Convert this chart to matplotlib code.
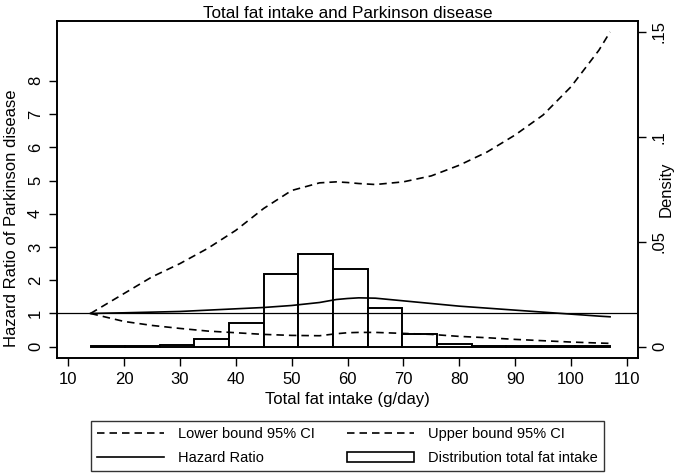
import numpy as np
import matplotlib
matplotlib.use('Agg')
import matplotlib.pyplot as plt
from matplotlib.patches import Patch
from matplotlib.lines import Line2D

plt.rcParams['font.family'] = ['Liberation Sans', 'DejaVu Sans']

# fat intake grid (g/day) and fitted curves
fat = [14, 20, 25, 30, 35, 40, 45, 50, 55, 58, 60, 62, 65, 70, 75, 80, 85, 90, 95, 100, 105, 107]
hr = [1.0, 1.02, 1.04, 1.06, 1.10, 1.14, 1.18, 1.24, 1.33, 1.42, 1.45, 1.47, 1.46, 1.38, 1.30, 1.22, 1.16, 1.10, 1.04, 0.98, 0.92, 0.90]
lower = [1.0, 0.76, 0.64, 0.55, 0.47, 0.42, 0.37, 0.34, 0.33, 0.39, 0.42, 0.43, 0.43, 0.40, 0.37, 0.31, 0.27, 0.22, 0.18, 0.14, 0.11, 0.10]
upper = [1.0, 1.6, 2.1, 2.5, 2.96, 3.5, 4.16, 4.7, 4.93, 4.96, 4.94, 4.91, 4.88, 4.96, 5.14, 5.46, 5.86, 6.37, 6.97, 7.82, 8.92, 9.47]

# histogram of total fat intake (density)
bin_start = 14.0
bin_width = 6.2
density = [0.0002, 0.0002, 0.0008, 0.0035, 0.0114, 0.0348, 0.0443, 0.0369, 0.0184, 0.006, 0.0011, 0.0003, 0.0002, 0.0002, 0.0002]

x_ticks = [10, 20, 30, 40, 50, 60, 70, 80, 90, 100, 110]
hr_ticks = [0, 1, 2, 3, 4, 5, 6, 7, 8]
dens_ticks = [0, 0.05, 0.1, 0.15]
dens_labels = ['0', '.05', '.1', '.15']

fig = plt.figure(figsize=(6.85, 4.73), dpi=100)
ax = fig.add_axes([57/685, 1 - 358/473, (638-57)/685, (358-21)/473])
ax2 = ax.twinx()
ax.set_zorder(ax2.get_zorder() + 1)
ax.patch.set_visible(False)

edges = [bin_start + i * bin_width for i in range(len(density))]
ax2.bar(edges, density, width=bin_width, align='edge', color='white',
        edgecolor='black', linewidth=1.4)

dash = (0, (4.5, 3))
ax.plot(fat, upper, color='black', lw=1.2, linestyle=dash)
ax.plot(fat, lower, color='black', lw=1.2, linestyle=dash)
ax.plot(fat, hr, color='black', lw=1.2)
ax.axhline(1, color='black', lw=0.9)

ylo, yhi = -0.34, 9.8
scale = 0.15 / 9.47
ax.set_ylim(ylo, yhi)
ax2.set_ylim(ylo * scale, yhi * scale)
ax.set_xlim(8, 112)

ax.set_xticks(x_ticks)
ax.set_yticks(hr_ticks)
ax.set_yticklabels([str(t) for t in hr_ticks], rotation=90, va='center')
ax2.set_yticks(dens_ticks)
ax2.set_yticklabels(dens_labels, rotation=90, va='center')

for a in (ax, ax2):
    a.tick_params(direction='out', length=6, width=1, labelsize=12, pad=4)
    for s in a.spines.values():
        s.set_linewidth(1.2)

ax.set_xlabel('Total fat intake (g/day)', fontsize=12, labelpad=4)
ax.set_ylabel('Hazard Ratio of Parkinson disease', fontsize=12)
ax.yaxis.set_label_coords(-0.0654, 0.415)
ax2.set_ylabel('Density', fontsize=12)
ax2.yaxis.set_label_coords(1.036, 0.5)
ax.set_title('Total fat intake and Parkinson disease', fontsize=12.3, pad=2)

handles = [
    Line2D([], [], color='black', lw=1.2, linestyle=dash),
    Line2D([], [], color='black', lw=1.2),
    Line2D([], [], color='black', lw=1.2, linestyle=dash),
    Patch(facecolor='white', edgecolor='black', linewidth=1.2),
]
labels = ['Lower bound 95% CI', 'Hazard Ratio', 'Upper bound 95% CI', 'Distribution total fat intake']
leg = fig.legend(handles, labels, ncol=2, loc='lower left',
                 bbox_to_anchor=(91/685, 1 - 471/473, (604-91)/685, (471-413)/473),
                 mode='expand', fontsize=10.5, frameon=True, fancybox=False,
                 edgecolor='black', handlelength=4.6, handletextpad=1.0,
                 borderaxespad=0, labelspacing=0.7, columnspacing=1.6)
leg.get_frame().set_linewidth(1.0)

fig.savefig('out.png', dpi=100)
